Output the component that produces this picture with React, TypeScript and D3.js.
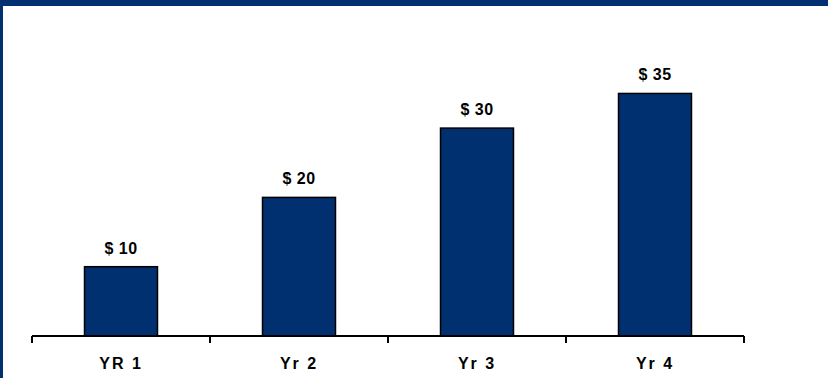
import React from "react";
import * as d3 from "d3";

const categories = ["YR 1", "Yr 2", "Yr 3", "Yr 4"];
const values = [10, 20, 30, 35];
const valueLabels = ["$ 10", "$ 20", "$ 30", "$ 35"];

const W = 828;
const H = 378;
const NAVY = "#003070";

export default function App() {
  const x = d3.scaleBand<string>().domain(categories).range([32, 744]).paddingInner(0.59).paddingOuter(0.295);
  const y = d3.scaleLinear().domain([0, 40]).range([336, 58.8]);
  const ticks = d3.range(categories.length + 1).map((i) => 32 + (i * (744 - 32)) / categories.length);
  const font = "'Liberation Sans', Arial, sans-serif";
  return (
    <svg width={W} height={H} style={{ position: "fixed", left: 0, top: 0, background: "#fff" }}>
      <rect x={0} y={0} width={W} height={H} fill="#fff" />
      <rect x={0} y={0} width={W} height={6} fill={NAVY} />
      <rect x={0} y={0} width={3} height={H} fill={NAVY} />
      {categories.map((c, i) => (
        <g key={c}>
          <rect
            x={x(c)}
            y={y(values[i])}
            width={x.bandwidth()}
            height={y(0) - y(values[i])}
            fill={NAVY}
            stroke="#000"
            strokeWidth={1.5}
          />
          <text
            x={(x(c) as number) + x.bandwidth() / 2}
            y={y(values[i]) - 13}
            textAnchor="middle"
            fontFamily={font}
            fontWeight="bold"
            fontSize={16}
            letterSpacing={0.5}
            fill="#000"
          >
            {valueLabels[i]}
          </text>
          <text
            x={(x(c) as number) + x.bandwidth() / 2}
            y={369}
            textAnchor="middle"
            fontFamily={font}
            fontWeight="bold"
            fontSize={16}
            letterSpacing={2}
            fill="#000"
          >
            {c}
          </text>
        </g>
      ))}
      <line x1={32} x2={744} y1={336} y2={336} stroke="#000" strokeWidth={2} />
      {ticks.map((t, i) => (
        <line key={i} x1={t} x2={t} y1={336} y2={343} stroke="#000" strokeWidth={2} />
      ))}
    </svg>
  );
}
